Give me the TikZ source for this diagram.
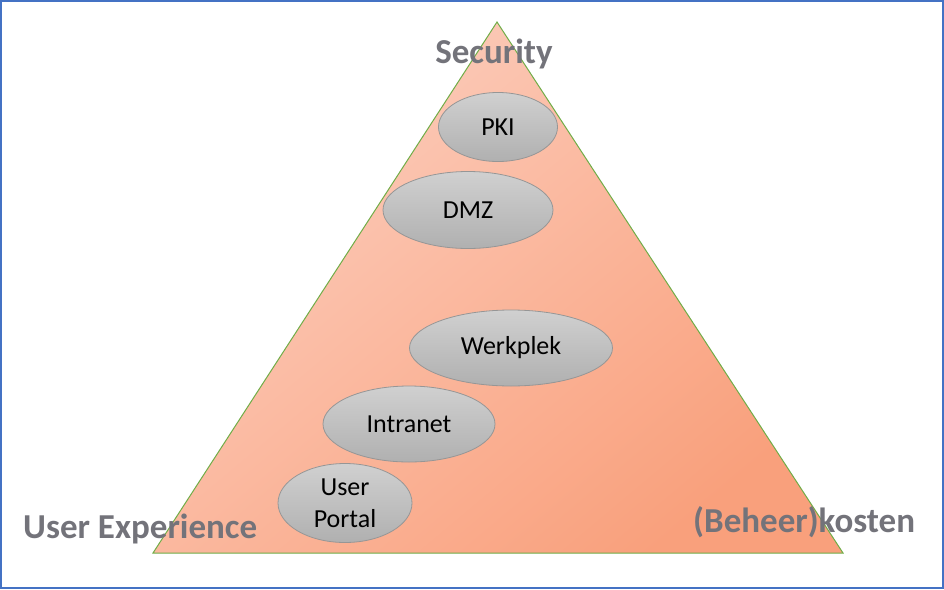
\documentclass[tikz,border=0pt]{standalone}
\usepackage{fontspec}
\setmainfont{Carlito}
\usetikzlibrary{shapes.geometric}
\definecolor{peachA}{RGB}{252,206,190}
\definecolor{peachB}{RGB}{249,160,124}
\definecolor{ovalA}{RGB}{208,208,208}
\definecolor{ovalB}{RGB}{176,176,176}
\definecolor{ovalLine}{RGB}{150,150,150}
\definecolor{triLine}{RGB}{112,173,71}
\definecolor{frameBlue}{RGB}{68,114,196}
\definecolor{labGray}{RGB}{115,115,122}
\tikzset{
  oval/.style={ellipse, draw=ovalLine, line width=0.8pt, top color=ovalA, bottom color=ovalB,
    inner sep=0pt, align=center, font=\fontsize{26}{32}\selectfont, text=black},
  corner/.style={font=\fontsize{35}{40}\selectfont\bfseries, text=labGray, inner sep=0pt}
}
\begin{document}
\begin{tikzpicture}[x=1pt,y=-1pt]
\useasboundingbox (0,0) rectangle (944,589);
\draw[frameBlue, line width=2pt] (1,1) rectangle (943,588);
% triangle
\coordinate (apex) at (497,22);
\coordinate (bl) at (153,553);
\coordinate (br) at (843,553);
\shade[top color=peachA, bottom color=peachB, shading angle=40] (apex) -- (bl) -- (br) -- cycle;
\draw[triLine, line width=1pt, line join=miter] (apex) -- (bl) -- (br) -- cycle;
% ovals
\node[oval, minimum width=119pt, minimum height=69pt] (pki) at (498,127) {PKI};
\node[oval, minimum width=170pt, minimum height=77pt] (dmz) at (468,210) {DMZ};
\node[oval, minimum width=203pt, minimum height=76pt] (werk) at (511,348) {Werkplek};
\node[oval, minimum width=172pt, minimum height=76pt] (intra) at (409,424) {Intranet};
\node[oval, minimum width=134pt, minimum height=79pt] (portal) at (345,503) {User\\Portal};
% corner labels
\node[corner, anchor=base] (sec) at (494,63) {Security};
\node[corner, anchor=base west] (ux) at (23,538) {User Experience};
\node[corner, anchor=base west] (cost) at (693,532) {(Beheer)kosten};
\end{tikzpicture}
\end{document}
